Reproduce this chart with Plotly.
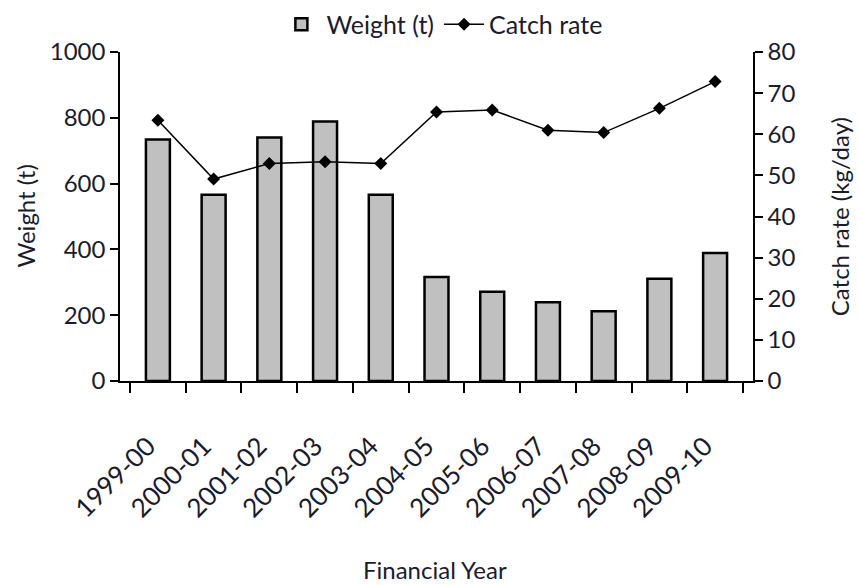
import plotly.graph_objects as go

years = ["1999-00", "2000-01", "2001-02", "2002-03", "2003-04", "2004-05",
         "2005-06", "2006-07", "2007-08", "2008-09", "2009-10"]
weight_t = [734, 566, 740, 789, 566, 316, 271, 239, 212, 311, 389]
catch_rate = [63.4, 49.1, 52.9, 53.3, 52.9, 65.4, 65.9, 61.0, 60.4, 66.3, 72.8]

weight_ticks = [0, 200, 400, 600, 800, 1000]
rate_ticks = [0, 10, 20, 30, 40, 50, 60, 70, 80]

FONT = "Lato"
TXT = "#1b1b2b"
FS = 24

fig = go.Figure()
fig.add_trace(go.Bar(
    x=years, y=weight_t, name="Weight (t)",
    marker=dict(color="#c0c0c0", line=dict(color="black", width=2.5)),
    yaxis="y",
))
fig.add_trace(go.Scatter(
    x=years, y=catch_rate, name="Catch rate", mode="lines+markers",
    line=dict(color="black", width=1.5),
    marker=dict(symbol="diamond", size=10, color="black"),
    yaxis="y2",
))

axis_common = dict(showgrid=False, zeroline=False, tickcolor="black",
                   tickfont=dict(family=FONT, size=FS, color=TXT))

fig.update_layout(
    width=859, height=585,
    margin=dict(l=120, r=106, t=52, b=204, autoexpand=False),
    paper_bgcolor="white", plot_bgcolor="white",
    bargap=0.57,
    font=dict(family=FONT, size=FS, color=TXT),
    showlegend=True,
    legend=dict(orientation="h", xref="container", x=0.515, xanchor="center",
                yref="container", y=0.958, yanchor="middle",
                font=dict(family=FONT, size=25, color=TXT),
                bgcolor="rgba(0,0,0,0)", itemwidth=40, tracegroupgap=0),
    xaxis=dict(
        showgrid=False, zeroline=False, tickcolor="black",
        tickfont=dict(family=FONT, size=26, color=TXT),
        type="category", tickson="boundaries",
        ticks="outside", ticklen=10, tickwidth=1.5,
        showline=True, linecolor="black", linewidth=1.5,
        tickangle=-45, ticklabelstandoff=38, ticklabelshift=-10,
    ),
    yaxis=dict(
        **axis_common, range=[0, 1000], tickvals=weight_ticks,
        ticks="outside", ticklen=8, tickwidth=1.5,
        showline=True, linecolor="black", linewidth=1.5,
    ),
    yaxis2=dict(
        **axis_common, range=[0, 80], tickvals=rate_ticks,
        overlaying="y", side="right",
        ticks="outside", ticklen=8, tickwidth=1.5,
        showline=True, linecolor="black", linewidth=1.5,
    ),
    yaxis3=dict(
        showgrid=False, zeroline=False, range=[0, 1000], tickvals=weight_ticks,
        overlaying="y", side="left", ticks="inside", ticklen=8, tickwidth=1.5,
        tickcolor="black", showticklabels=False, showline=False,
    ),
    yaxis4=dict(
        showgrid=False, zeroline=False, range=[0, 80], tickvals=rate_ticks,
        overlaying="y", side="right", ticks="inside", ticklen=8, tickwidth=1.5,
        tickcolor="black", showticklabels=False, showline=False,
    ),
    annotations=[
        dict(text="Weight (t)", xref="paper", yref="paper", x=-0.15, y=0.5,
             xanchor="center", yanchor="middle", textangle=-90, showarrow=False,
             font=dict(family=FONT, size=FS, color=TXT)),
        dict(text="Catch rate (kg/day)", xref="paper", yref="paper", x=1.137, y=0.5,
             xanchor="center", yanchor="middle", textangle=-90, showarrow=False,
             font=dict(family=FONT, size=FS, color=TXT)),
        dict(text="Financial Year", xref="paper", yref="paper", x=0.497, y=-0.574,
             xanchor="center", yanchor="middle", showarrow=False,
             font=dict(family=FONT, size=FS, color=TXT)),
    ],
)

fig.write_html("out.html", config={"displayModeBar": False},
               post_script="document.body.style.margin='0';document.body.style.overflow='hidden';")
